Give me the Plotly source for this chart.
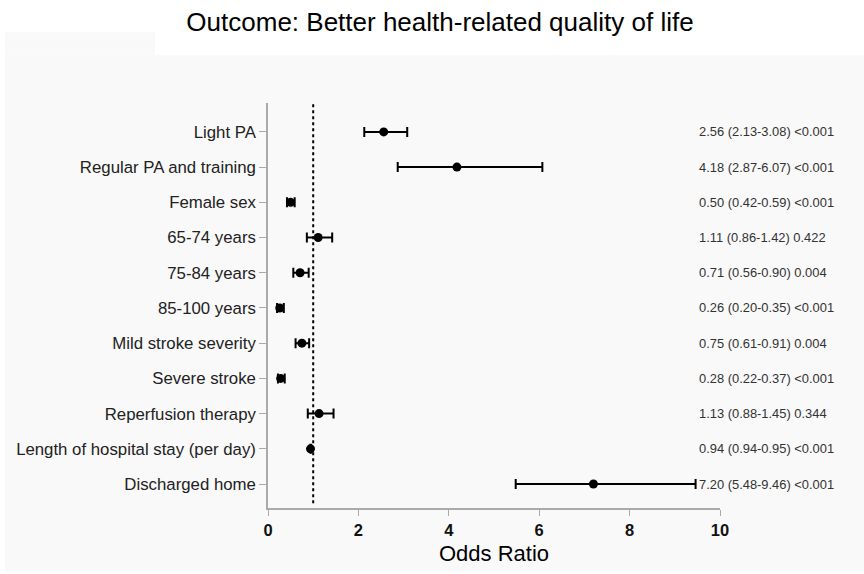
import plotly.graph_objects as go

# Forest plot data: odds ratios with 95% CI and p-values
labels = [
    "Light PA",
    "Regular PA and training",
    "Female sex",
    "65-74 years",
    "75-84 years",
    "85-100 years",
    "Mild stroke severity",
    "Severe stroke",
    "Reperfusion therapy",
    "Length of hospital stay (per day)",
    "Discharged home",
]
odds_ratio = [2.56, 4.18, 0.50, 1.11, 0.71, 0.26, 0.75, 0.28, 1.13, 0.94, 7.20]
ci_low = [2.13, 2.87, 0.42, 0.86, 0.56, 0.20, 0.61, 0.22, 0.88, 0.94, 5.48]
ci_high = [3.08, 6.07, 0.59, 1.42, 0.90, 0.35, 0.91, 0.37, 1.45, 0.95, 9.46]
p_values = ["<0.001", "<0.001", "<0.001", "0.422", "0.004", "<0.001",
            "0.004", "<0.001", "0.344", "<0.001", "<0.001"]
x_ticks = [0, 2, 4, 6, 8, 10]

FONT = "Arial, Liberation Sans, sans-serif"
rows = list(range(len(labels)))

# pixel -> paper helpers for the decorative background panels
W, H = 864, 574
ML, MR, MT, MB = 268, 144, 103, 64
PW, PH = W - ML - MR, H - MT - MB


def px_x(p):
    return (p - ML) / PW


def px_y(p):
    return (H - MB - p) / PH


fig = go.Figure()

fig.add_trace(go.Scatter(
    x=odds_ratio,
    y=rows,
    mode="markers",
    marker=dict(color="black", size=9),
    error_x=dict(
        type="data",
        symmetric=False,
        array=[h - o for h, o in zip(ci_high, odds_ratio)],
        arrayminus=[o - l for o, l in zip(odds_ratio, ci_low)],
        color="black",
        thickness=2,
        width=5,
    ),
    showlegend=False,
    hoverinfo="skip",
))

shapes = [
    # light grey panel behind the chart
    dict(type="rect", xref="paper", yref="paper",
         x0=px_x(5), x1=px_x(864), y0=px_y(574), y1=px_y(55),
         fillcolor="#f9f9f9", line=dict(width=0), layer="below"),
    dict(type="rect", xref="paper", yref="paper",
         x0=px_x(5), x1=px_x(155), y0=px_y(55), y1=px_y(32),
         fillcolor="#f9f9f9", line=dict(width=0), layer="below"),
    # reference line at OR = 1
    dict(type="line", xref="x", yref="paper", x0=1, x1=1, y0=0.012, y1=1,
         line=dict(color="black", width=2, dash="dot")),
]

annotations = [
    dict(text="Odds Ratio (95%<br>Confidence Interval)<br>p-value",
         xref="paper", yref="y", x=px_x(697), y=-1.47,
         xanchor="left", yanchor="middle", align="left", showarrow=False,
         font=dict(family=FONT, size=12.9, color="#333")),
]
for r, o, lo, hi, p in zip(rows, odds_ratio, ci_low, ci_high, p_values):
    annotations.append(dict(
        text=f"{o:.2f} ({lo:.2f}-{hi:.2f}) {p}",
        xref="paper", yref="y", x=px_x(697), y=r,
        xanchor="left", yanchor="middle", showarrow=False,
        font=dict(family=FONT, size=12.9, color="#333"),
    ))

fig.update_layout(
    width=W, height=H,
    margin=dict(l=ML, r=MR, t=MT, b=MB),
    paper_bgcolor="white",
    plot_bgcolor="rgba(0,0,0,0)",
    title=dict(text="Outcome: Better health-related quality of life",
               x=440 / W, xref="container", xanchor="center",
               y=1 - 22 / H, yanchor="middle",
               font=dict(family=FONT, size=26, color="black")),
    shapes=shapes,
    annotations=annotations,
    xaxis=dict(
        range=[0, 10],
        tickvals=x_ticks,
        ticktext=[f"<b>{t}</b>" for t in x_ticks],
        tickfont=dict(family=FONT, size=16.5, color="#111"),
        showgrid=False, zeroline=False,
        showline=True, linecolor="#aaaaaa", linewidth=1.5,
        ticks="outside", ticklen=6, tickcolor="#aaaaaa", tickwidth=1,
        title=dict(text="Odds Ratio", font=dict(family=FONT, size=22, color="black"),
                   standoff=8),
    ),
    yaxis=dict(
        range=[10.68, -0.82],
        tickvals=rows,
        ticktext=labels,
        tickfont=dict(family=FONT, size=16.8, color="#222"),
        showgrid=False, zeroline=False,
        showline=True, linecolor="#aaaaaa", linewidth=1.5,
        ticks="outside", ticklen=7, tickcolor="#aaaaaa", tickwidth=1,
    ),
)

fig.write_html("out.html")
